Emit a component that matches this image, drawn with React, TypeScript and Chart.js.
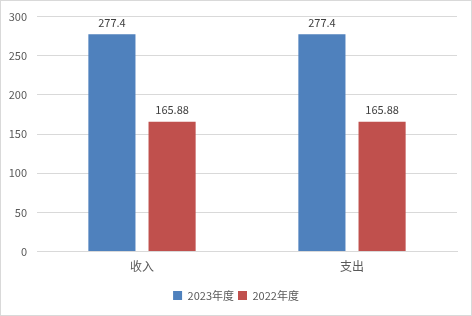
import React, { useEffect, useRef } from "react";
import { Chart, registerables } from "chart.js";

Chart.register(...registerables);

const categories = ["收入", "支出"];
const series2023 = [277.4, 277.4];
const series2022 = [165.88, 165.88];
const seriesNames = ["2023年度", "2022年度"];
const yTicks = [0, 50, 100, 150, 200, 250, 300];

const FONT = "'Noto Sans CJK SC', 'Noto Sans', sans-serif";

const framePlugin = {
  id: "frame",
  beforeDraw(chart: any) {
    const { ctx, width, height } = chart;
    ctx.save();
    ctx.fillStyle = "#ffffff";
    ctx.fillRect(0, 0, width, height);
    ctx.strokeStyle = "#D9D9D9";
    ctx.lineWidth = 1;
    ctx.strokeRect(0.5, 0.5, width - 1, height - 1);
    ctx.restore();
  },
};

const legendCenterPlugin = {
  id: "legendCenter",
  afterLayout(chart: any) {
    if (chart.legend) {
      chart.legend.left = 0;
      chart.legend.right = chart.width;
    }
  },
};

const labelPlugin = {
  id: "valueLabels",
  afterDatasetsDraw(chart: any) {
    const { ctx } = chart;
    ctx.save();
    ctx.font = `11px ${FONT}`;
    ctx.fillStyle = "#404040";
    ctx.textAlign = "center";
    ctx.textBaseline = "bottom";
    chart.data.datasets.forEach((ds: any, i: number) => {
      const meta = chart.getDatasetMeta(i);
      meta.data.forEach((el: any, j: number) => {
        ctx.fillText(String(ds.data[j]), el.x, el.y - 6);
      });
    });
    ctx.restore();
  },
};

export default function App() {
  const ref = useRef<HTMLCanvasElement>(null);
  useEffect(() => {
    document.body.style.margin = "0";
    const chart = new Chart(ref.current!, {
      type: "bar",
      data: {
        labels: categories,
        datasets: [
          {
            label: seriesNames[0],
            data: series2023,
            backgroundColor: "#4F81BD",
            categoryPercentage: 0.573,
            barPercentage: 0.783,
          },
          {
            label: seriesNames[1],
            data: series2022,
            backgroundColor: "#C0504D",
            categoryPercentage: 0.573,
            barPercentage: 0.783,
          },
        ],
      },
      options: {
        animation: false,
        responsive: true,
        maintainAspectRatio: false,
        layout: { padding: { top: 6, right: 15, bottom: 5, left: 0 } },
        plugins: {
          legend: {
            position: "bottom",
            labels: {
              boxWidth: 9,
              boxHeight: 9,
              color: "#595959",
              font: { family: FONT, size: 11 },
              padding: 4,
            },
          },
          tooltip: { enabled: false },
        },
        scales: {
          x: {
            grid: { display: false, drawTicks: false },
            border: { display: true, color: "#D9D9D9" },
            ticks: { color: "#595959", font: { family: FONT, size: 12 }, padding: 8 },
            afterFit: (scale: any) => {
              scale.height += 4;
            },
          },
          y: {
            min: 0,
            max: 300,
            afterBuildTicks: (scale: any) => {
              scale.ticks = yTicks.map((v) => ({ value: v }));
            },
            afterFit: (scale: any) => {
              scale.width = 37;
            },
            grid: { color: "#D9D9D9", drawTicks: false },
            border: { display: false },
            ticks: { color: "#595959", font: { family: FONT, size: 11 }, padding: 10 },
          },
        },
      },
      plugins: [framePlugin, legendCenterPlugin, labelPlugin],
    } as any);
    return () => chart.destroy();
  }, []);
  return (
    <div style={{ position: "absolute", left: 0, top: 0, width: 472, height: 316 }}>
      <canvas ref={ref} />
    </div>
  );
}
